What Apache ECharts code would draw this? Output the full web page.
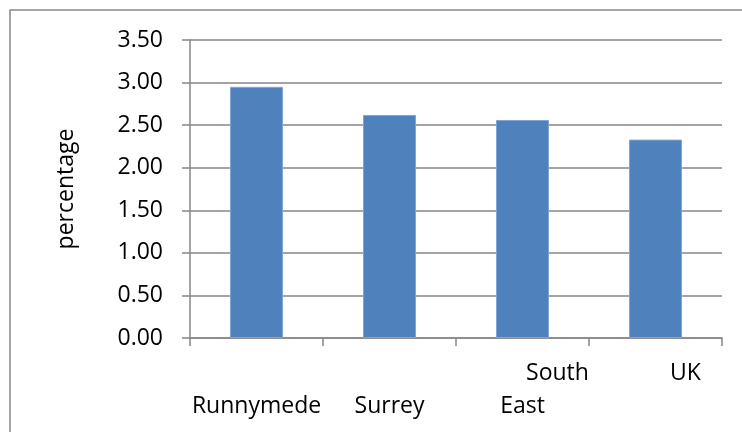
<!DOCTYPE html>
<html>
<head>
<meta charset="utf-8">
<script src="https://cdn.jsdelivr.net/npm/echarts@6/dist/echarts.min.js"></script>
<style>
html,body{margin:0;padding:0;background:#fff;}
#chart{width:742px;height:432px;}
</style>
</head>
<body>
<div id="chart"></div>
<script>
var categories = ['Runnymede', 'Surrey', 'South East', 'UK'];
var values = [2.95, 2.62, 2.56, 2.33];
var yTicks = ['0.00','0.50','1.00','1.50','2.00','2.50','3.00','3.50'];
var yAxisName = 'percentage';

var FONT = '"Open Sans", "Noto Sans", sans-serif';
var FS = 23;
var chart = echarts.init(document.getElementById('chart'), null, {renderer: 'canvas'});

function catLabel(v) {
  if (v === 'South East') return '{s|South}\n{n|East}';
  if (v === 'UK') return '{u|UK}\n{n| }';
  return '{n| }\n{n|' + v + '}';
}

chart.setOption({
  animation: false,
  backgroundColor: '#ffffff',
  graphic: [{
    type: 'rect',
    shape: {x: 10, y: 10, width: 900, height: 600},
    style: {fill: 'none', stroke: '#888888', lineWidth: 1.5},
    silent: true
  }],
  grid: {left: 190, right: 20, top: 40, bottom: 94},
  xAxis: {
    type: 'category',
    data: categories,
    axisLine: {lineStyle: {color: '#868686', width: 1.5}},
    axisTick: {show: true, length: 8, lineStyle: {color: '#868686', width: 1.5}},
    axisLabel: {
      interval: 0,
      margin: 19,
      formatter: catLabel,
      rich: {
        n: {fontFamily: FONT, fontSize: FS, color: '#000', lineHeight: 33},
        s: {fontFamily: FONT, fontSize: FS, color: '#000', lineHeight: 33, padding: [0, 0, 0, 70]},
        u: {fontFamily: FONT, fontSize: FS, color: '#000', lineHeight: 33, padding: [0, 0, 0, 60]}
      }
    }
  },
  yAxis: {
    type: 'value',
    min: 0,
    max: 3.5,
    interval: 0.5,
    name: yAxisName,
    nameLocation: 'middle',
    nameRotate: 90,
    nameGap: 112,
    nameTextStyle: {fontFamily: FONT, fontSize: FS, color: '#000'},
    axisLine: {show: true, lineStyle: {color: '#868686', width: 1.5}},
    axisTick: {show: true, length: 8, lineStyle: {color: '#868686', width: 1.5}},
    splitLine: {show: true, lineStyle: {color: '#868686', width: 1.5}},
    axisLabel: {
      margin: 27,
      fontFamily: FONT,
      fontSize: FS,
      color: '#000',
      formatter: function (v) { return yTicks[Math.round(v / 0.5)]; }
    }
  },
  series: [{
    type: 'bar',
    data: values,
    barWidth: 53,
    itemStyle: {color: '#4F81BD', borderColor: '#7FA6D6', borderWidth: 1}
  }]
});
</script>
</body>
</html>
